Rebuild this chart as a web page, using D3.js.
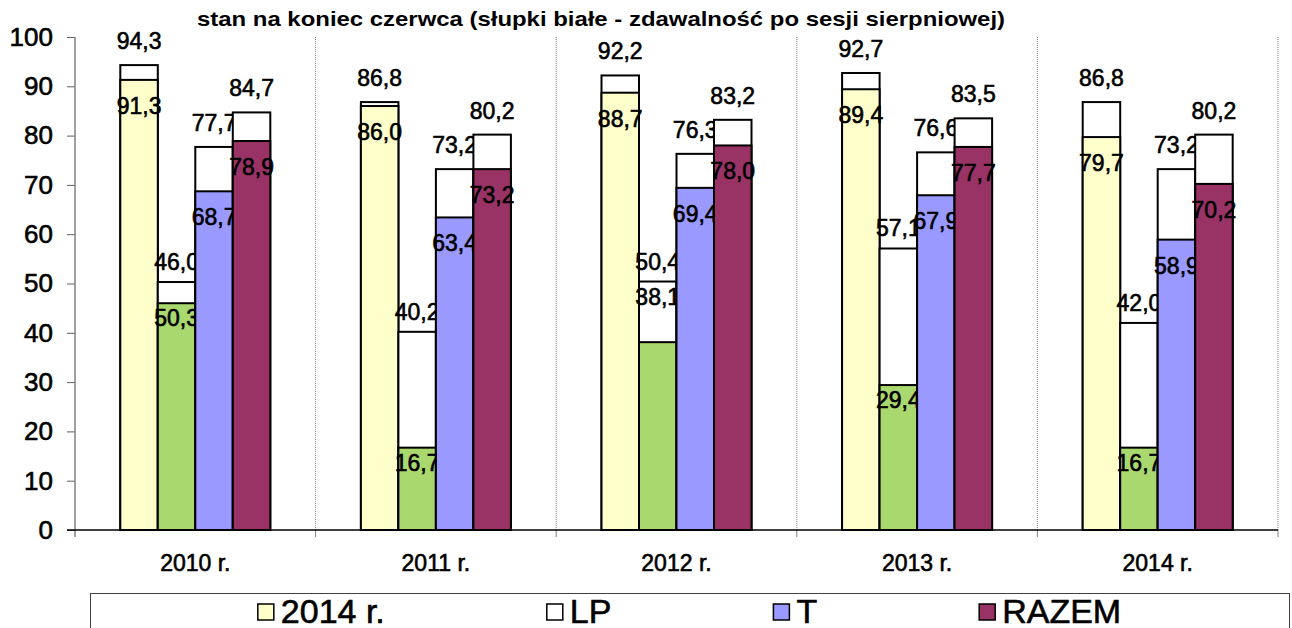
<!DOCTYPE html>
<html>
<head>
<meta charset="utf-8">
<script src="https://cdn.jsdelivr.net/npm/d3@7"></script>
<style>
  body { margin: 0; background: #fff; }
  svg { display: block; font-family: "Liberation Sans", Arial, sans-serif; }
  .heavy { stroke: #000; stroke-width: 0.6px; fill: #000; }
</style>
</head>
<body>
<div id="chart"></div>
<script>
'use strict';

// data
var years = ['2010 r.', '2011 r.', '2012 r.', '2013 r.', '2014 r.'];
var seriesNames = ['2014 r.', 'LP', 'T', 'RAZEM'];
var seriesColors = ['#FFFFCC', '#A9D86E', '#9999FF', '#993366'];

// june (coloured part) and after the august session (white part)
var juneLO = [91.3, 86.0, 88.7, 89.4, 79.7];
var augLO = [94.3, 86.8, 92.2, 92.7, 86.8];
var juneLP = [46.0, 16.7, 38.1, 29.4, 16.7];
var augLP = [50.3, 40.2, 50.4, 57.1, 42.0];
var juneT = [68.7, 63.4, 69.4, 67.9, 58.9];
var augT = [77.7, 73.2, 76.3, 76.6, 73.2];
var juneRazem = [78.9, 73.2, 78.0, 77.7, 70.2];
var augRazem = [84.7, 80.2, 83.2, 83.5, 80.2];

// label texts as printed (LP 2010 labels are swapped in the original)
var augLabelsLP = ['46,0', '40,2', '50,4', '57,1', '42,0'];
var juneLabelsLP = ['50,3', '16,7', '38,1', '29,4', '16,7'];

var yTicks = [0, 10, 20, 30, 40, 50, 60, 70, 80, 90, 100];
var titleText = 'stan na koniec czerwca (słupki białe - zdawalność po sesji sierpniowej)';

var fmt = function (v) { return v.toFixed(1).replace('.', ','); };

var series = [
    { name: seriesNames[0], color: seriesColors[0], june: juneLO, aug: augLO },
    { name: seriesNames[1], color: seriesColors[1], june: juneLP, aug: augLP, augText: augLabelsLP, juneText: juneLabelsLP },
    { name: seriesNames[2], color: seriesColors[2], june: juneT, aug: augT },
    { name: seriesNames[3], color: seriesColors[3], june: juneRazem, aug: augRazem }
];

var width = 1292, height = 628;
var plot = { left: 75, right: 1278, top: 37, bottom: 530 };

var svg = d3.select('#chart').append('svg')
    .attr('width', width).attr('height', height);

var x0 = d3.scaleBand().domain(years).range([plot.left, plot.right]).padding(0);
var x1 = d3.scaleBand().domain(seriesNames).range([0, x0.bandwidth()])
    .paddingInner(0).paddingOuter(1.208);
var y = d3.scaleLinear().domain([0, 100]).range([plot.bottom, plot.top]);

// title (only the second line is visible)
svg.append('text')
    .attr('x', 197).attr('y', 26)
    .attr('textLength', 808).attr('lengthAdjust', 'spacingAndGlyphs')
    .style('font-size', '21px').style('font-weight', 'bold')
    .text(titleText);

// group separators (dotted) with small ticks below axis
var seps = years.map(function (d) { return x0(d) + x0.bandwidth(); });
svg.append('g').selectAll('line').data(seps).enter().append('line')
    .attr('x1', function (d) { return d; }).attr('x2', function (d) { return d; })
    .attr('y1', plot.top).attr('y2', plot.bottom)
    .attr('stroke', '#808080').attr('stroke-width', 1)
    .attr('stroke-dasharray', '1,1');
svg.append('g').selectAll('line').data(seps).enter().append('line')
    .attr('x1', function (d) { return d; }).attr('x2', function (d) { return d; })
    .attr('y1', plot.bottom).attr('y2', plot.bottom + 7)
    .attr('stroke', '#808080');

// y axis
var yAxis = svg.append('g')
    .attr('transform', 'translate(' + plot.left + ',0)')
    .call(d3.axisLeft(y).tickValues(yTicks).tickSize(8).tickPadding(14).tickFormat(d3.format('d')));
yAxis.select('.domain').remove();
yAxis.selectAll('.tick line').attr('stroke', '#606060');
yAxis.selectAll('.tick text')
    .attr('class', 'heavy')
    .style('font-size', '26px')
    .style('font-family', '"Liberation Sans", Arial, sans-serif');
svg.append('line')
    .attr('x1', plot.left).attr('x2', plot.left)
    .attr('y1', plot.top).attr('y2', plot.bottom + 7)
    .attr('stroke', '#808080').attr('stroke-width', 1.5);

// the 2012 LP june label was dragged up in the original
var labelMoved = function (si, d) { return si === 1 && d.year === '2012 r.' ? -60 : 0; };

// bars and labels, series by series
var bars = svg.append('g');
series.forEach(function (s, si) {
    var g = bars.append('g');
    var data = years.map(function (yr, i) {
        return {
            year: yr, june: s.june[i], aug: s.aug[i],
            augText: s.augText ? s.augText[i] : fmt(s.aug[i]),
            juneText: s.juneText ? s.juneText[i] : fmt(s.june[i])
        };
    });
    var bx = function (d) { return x0(d.year) + x1(s.name); };
    g.selectAll('.aug').data(data).enter().append('rect')
        .attr('x', bx).attr('width', x1.bandwidth())
        .attr('y', function (d) { return y(d.aug); })
        .attr('height', function (d) { return y(0) - y(d.aug); })
        .attr('fill', '#fff').attr('stroke', '#000').attr('stroke-width', 2);
    g.selectAll('.june').data(data).enter().append('rect')
        .attr('x', bx).attr('width', x1.bandwidth())
        .attr('y', function (d) { return y(d.june); })
        .attr('height', function (d) { return y(0) - y(d.june); })
        .attr('fill', s.color).attr('stroke', '#000').attr('stroke-width', 2);
    var augOff = si === 1 ? -12 : -16;
    var juneOff = si === 1 ? 23 : 34;
    g.selectAll('.augLbl').data(data).enter().append('text')
        .attr('class', 'heavy')
        .attr('x', function (d) { return bx(d) + x1.bandwidth() / 2; })
        .attr('y', function (d) { return y(d.aug) + augOff; })
        .attr('text-anchor', 'middle').style('font-size', '23px')
        .text(function (d) { return d.augText; });
    g.selectAll('.juneLbl').data(data).enter().append('text')
        .attr('class', 'heavy')
        .attr('x', function (d) { return bx(d) + x1.bandwidth() / 2; })
        .attr('y', function (d) { return y(d.june) + juneOff + labelMoved(si, d); })
        .attr('text-anchor', 'middle').style('font-size', '23px')
        .text(function (d) { return d.juneText; });
});

// x axis line
svg.append('line')
    .attr('x1', plot.left - 8).attr('x2', plot.right)
    .attr('y1', plot.bottom).attr('y2', plot.bottom)
    .attr('stroke', '#000').attr('stroke-width', 1.5);

// category labels
svg.append('g').selectAll('text').data(years).enter().append('text')
    .attr('class', 'heavy')
    .attr('x', function (d) { return x0(d) + x0.bandwidth() / 2; })
    .attr('y', 571)
    .attr('text-anchor', 'middle').style('font-size', '23px')
    .text(function (d) { return d; });

// legend
var legend = svg.append('g');
legend.append('rect')
    .attr('x', 90.5).attr('y', 593.5).attr('width', 1199).attr('height', 60)
    .attr('fill', '#fff').attr('stroke', '#404040').attr('stroke-width', 1);
var items = legend.selectAll('.item').data(series).enter().append('g');
items.append('rect')
    .attr('width', 16).attr('height', 16).attr('y', 604)
    .attr('fill', function (d) { return d.color === '#A9D86E' ? '#fff' : d.color; })
    .attr('stroke', '#000').attr('stroke-width', 1.5);
items.append('text')
    .attr('class', 'heavy')
    .attr('x', 23).attr('y', 623)
    .style('font-size', '34px')
    .text(function (d) { return d.name; });
var gap = 162, total = 0;
var widths = [];
items.each(function () {
    var w = 23 + d3.select(this).select('text').node().getComputedTextLength();
    widths.push(w);
    total += w;
});
total += gap * (widths.length - 1);
var cx = 90 + 1199 / 2 - total / 2;
items.attr('transform', function (d, i) {
    var t = 'translate(' + cx + ',0)';
    cx += widths[i] + gap;
    return t;
});
</script>
</body>
</html>
